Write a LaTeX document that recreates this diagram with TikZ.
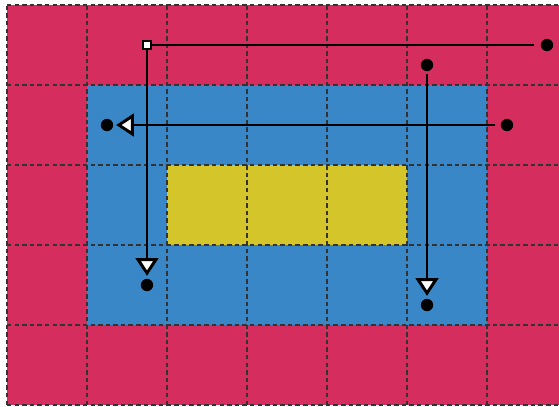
\documentclass[tikz,border=0pt]{standalone}
\usepackage{tikz}
\usetikzlibrary{arrows.meta, positioning}
\definecolor{zoneRed}{HTML}{D52D5E}
\definecolor{zoneBlue}{HTML}{3987C6}
\definecolor{zoneYellow}{HTML}{D4C52A}
\definecolor{gridGray}{HTML}{333333}
\tikzset{
  gridLine/.style={draw=gridGray, line width=0.6pt, dash pattern=on 1.6pt off 1.1pt},
  wire/.style={black, line width=1.05pt},
  arrowW/.style={-{Triangle[fill=white, length=0.22cm, width=0.28cm]}, black,
                 line width=1.05pt, shorten >=0.03cm},
  dotN/.style={circle, fill=black, inner sep=0pt, minimum size=0.155cm},
  srcN/.style={rectangle, draw=black, fill=white, inner sep=0pt,
               minimum size=0.1cm, line width=0.5pt},
}
\begin{document}
\begin{tikzpicture}
    \clip (-0.0875,-0.0125) rectangle (6.9,5.0625);
    % zones
    \fill[zoneRed] (0,0) rectangle (7,5);
    \fill[zoneBlue] (1,1) rectangle (6,4);
    \fill[zoneYellow] (2,2) rectangle (5,3);
    \draw[gridLine] (0,0) grid (7,5);
    % points
    \node[srcN] (src) at (1.75,4.5) {};
    \node[dotN] (endR) at (6.75,4.5) {};
    \node[dotN] (endA) at (1.75,1.5) {};
    \node[dotN] (topB) at (5.25,4.25) {};
    \node[dotN] (endB) at (5.25,1.25) {};
    \node[dotN] (startC) at (6.25,3.5) {};
    \node[dotN] (endC) at (1.25,3.5) {};
    % paths
    \draw[wire, shorten >=0.075cm] (src) -- (endR);
    \draw[arrowW] (src) -- (endA);
    \draw[arrowW, shorten <=0.03cm] (topB) -- (endB);
    \draw[arrowW, shorten <=0.06cm] (startC) -- (endC);
\end{tikzpicture}
\end{document}
